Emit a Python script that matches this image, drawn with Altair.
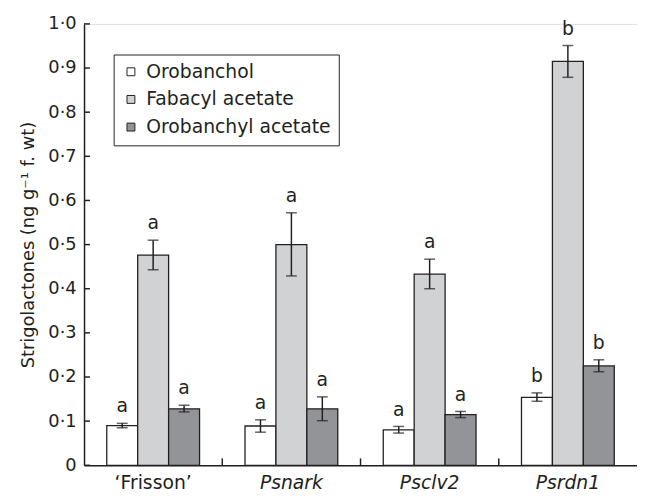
import altair as alt
import pandas as pd

groups = ["‘Frisson’", "Psnark", "Psclv2", "Psrdn1"]
series = ["Orobanchol", "Fabacyl acetate", "Orobanchyl acetate"]
colors = ["#ffffff", "#d1d2d4", "#929497"]

means = {
    "Orobanchol": [0.090, 0.089, 0.080, 0.154],
    "Fabacyl acetate": [0.476, 0.500, 0.433, 0.915],
    "Orobanchyl acetate": [0.128, 0.128, 0.115, 0.225],
}
lows = {
    "Orobanchol": [0.085, 0.075, 0.073, 0.145],
    "Fabacyl acetate": [0.443, 0.429, 0.400, 0.879],
    "Orobanchyl acetate": [0.121, 0.101, 0.108, 0.212],
}
highs = {
    "Orobanchol": [0.095, 0.103, 0.088, 0.164],
    "Fabacyl acetate": [0.510, 0.572, 0.467, 0.951],
    "Orobanchyl acetate": [0.136, 0.155, 0.122, 0.239],
}
letters = {
    "Orobanchol": ["a", "a", "a", "b"],
    "Fabacyl acetate": ["a", "a", "a", "b"],
    "Orobanchyl acetate": ["a", "a", "a", "b"],
}
y_ticks = [0, 0.1, 0.2, 0.3, 0.4, 0.5, 0.6, 0.7, 0.8, 0.9, 1.0]

rows = []
for s in series:
    for i, g in enumerate(groups):
        rows.append({"group": g, "series": s, "mean": means[s][i],
                     "lo": lows[s][i], "hi": highs[s][i], "letter": letters[s][i]})
df = pd.DataFrame(rows)

W, H = 560, 447
FONT = "DejaVu Sans"
INK = "#231f20"

xscale = alt.Scale(domain=groups, paddingInner=0, paddingOuter=0)
xoff = alt.XOffset("series:N", sort=series,
                   scale=alt.Scale(domain=series, paddingInner=0, paddingOuter=0.735))
yscale = alt.Scale(domain=[0, 1], nice=False, zero=True)

x_enc = alt.X("group:N", scale=xscale, sort=groups, axis=alt.Axis(
    title=None, domainColor=INK, domainWidth=1.5, ticks=False, labelAngle=0,
    labelFont=FONT, labelFontSize=19, labelColor=INK, labelPadding=9,
    labelFontStyle=alt.expr("datum.label == '‘Frisson’' ? 'normal' : 'italic'")))
y_enc = alt.Y("mean:Q", scale=yscale, axis=alt.Axis(
    title="Strigolactones (ng g⁻¹ f. wt)", values=y_ticks, domainColor=INK, domainWidth=1.5,
    ticks=False, grid=False, labelFont=FONT, labelFontSize=18, labelColor=INK, labelPadding=8,
    labelExpr="datum.value == 0 ? '0' : replace(format(datum.value, '.1f'), '.', '·')",
    titleFont=FONT, titleFontSize=18, titleFontWeight="normal", titleColor=INK, titlePadding=11))

base = alt.Chart(df)

bars = base.mark_bar(stroke=INK, strokeWidth=1.3).encode(
    x=x_enc, xOffset=xoff, y=y_enc,
    fill=alt.Fill("series:N", sort=series,
                  scale=alt.Scale(domain=series, range=colors),
                  legend=alt.Legend(
                      title=None, orient="none", legendX=30, legendY=31,
                      direction="vertical", strokeColor=INK, fillColor="white",
                      padding=8, labelFont=FONT, labelFontSize=19, labelColor=INK,
                      labelLimit=400,
                      symbolType="square", symbolSize=64, symbolStrokeColor=INK,
                      symbolStrokeWidth=1, rowPadding=8, labelOffset=6)),
)

err_rule = base.mark_rule(color=INK, strokeWidth=1.5).encode(
    x=alt.X("group:N", scale=xscale, sort=groups), xOffset=xoff,
    y=alt.Y("lo:Q", scale=yscale), y2="hi:Q")
cap_lo = base.mark_tick(color=INK, thickness=1.5, size=11).encode(
    x=alt.X("group:N", scale=xscale, sort=groups), xOffset=xoff,
    y=alt.Y("lo:Q", scale=yscale))
cap_hi = base.mark_tick(color=INK, thickness=1.5, size=11).encode(
    x=alt.X("group:N", scale=xscale, sort=groups), xOffset=xoff,
    y=alt.Y("hi:Q", scale=yscale))

labels = base.mark_text(font=FONT, fontSize=19, color=INK, baseline="alphabetic", dy=-11).encode(
    x=alt.X("group:N", scale=xscale, sort=groups), xOffset=xoff,
    y=alt.Y("hi:Q", scale=yscale), text="letter:N")

ytick_df = pd.DataFrame({"v": y_ticks})
yticks = alt.Chart(ytick_df).mark_rule(color=INK, strokeWidth=1.5).encode(
    y=alt.Y("v:Q", scale=yscale), x=alt.value(0), x2=alt.value(6))

xtick_df = pd.DataFrame({"group": groups[1:]})
xticks = alt.Chart(xtick_df).mark_rule(color=INK, strokeWidth=1.5).encode(
    x=alt.X("group:N", scale=xscale, sort=groups, bandPosition=0),
    y=alt.value(H - 7), y2=alt.value(H))

chart = alt.layer(bars, err_rule, cap_lo, cap_hi, labels, yticks, xticks).properties(
    width=W, height=H,
    autosize=alt.AutoSizeParams(type="none"),
    padding={"left": 77, "top": 13, "right": 0, "bottom": 28},
).configure_view(stroke=None).configure(background="white")

chart.save("out.html", embed_options={"renderer": "svg", "actions": False})
